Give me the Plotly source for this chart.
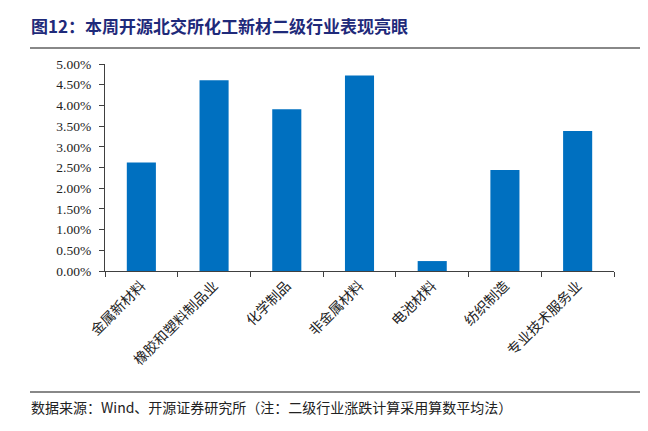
import plotly.graph_objects as go

categories = ["金属新材料", "橡胶和塑料制品业", "化学制品", "非金属材料", "电池材料", "纺织制造", "专业技术服务业"]
values = [2.62, 4.61, 3.91, 4.72, 0.24, 2.44, 3.38]
tick_vals = [0, 0.5, 1, 1.5, 2, 2.5, 3, 3.5, 4, 4.5, 5]
tick_text = ["%.2f%%" % v for v in tick_vals]

title_text = "图12：本周开源北交所化工新材二级行业表现亮眼"
source_text = "数据来源：Wind、开源证券研究所（注：二级行业涨跌计算采用算数平均法）"

serif = "Liberation Serif"
cjk = "Noto Sans CJK SC"

# page body has an 8px margin; figure coordinates are window coords minus 8
W, H = 640, 423
L, T, R, B = 97, 56, 34, 160
pw = W - L - R   # 509
ph = H - T - B   # 207

def px(x):  # window x -> paper x
    return (x - 8 - L) / pw

def py(y):  # window y -> paper y
    return (H - B - (y - 8)) / ph

fig = go.Figure(go.Bar(
    x=categories, y=values, marker_color="#0070C0", width=0.4,
    marker_line_width=0,
))

fig.update_layout(
    width=W, height=H,
    margin=dict(l=L, r=R, t=T, b=B),
    paper_bgcolor="white", plot_bgcolor="white",
    showlegend=False,
    xaxis=dict(
        showline=True, linecolor="#404040", linewidth=1.2,
        ticks="outside", ticklen=5, tickcolor="#404040",
        tickson="boundaries", tickangle=-45,
        tickfont=dict(family=cjk, size=14, color="#222222"),
        showgrid=False,
    ),
    yaxis=dict(
        range=[0, 5], tickvals=tick_vals, ticktext=tick_text,
        showline=True, linecolor="#404040", linewidth=1.2,
        ticks="outside", ticklen=5, tickcolor="#404040",
        ticklabelstandoff=5,
        tickfont=dict(family=serif, size=13.5, color="#222222"),
        showgrid=False, zeroline=False,
    ),
    shapes=[
        dict(type="line", xref="paper", yref="paper",
             x0=px(30), x1=px(648), y0=py(48), y1=py(48),
             line=dict(color="#606060", width=1.5)),
        dict(type="line", xref="paper", yref="paper",
             x0=px(30), x1=px(648), y0=py(392), y1=py(392),
             line=dict(color="#606060", width=1.5)),
    ],
    annotations=[
        dict(text="<b>" + title_text + "</b>", xref="paper", yref="paper",
             x=px(29), y=py(25), xanchor="left", yanchor="middle",
             showarrow=False, font=dict(family=cjk, size=17, color="#1F2A7A")),
        dict(text=source_text, xref="paper", yref="paper",
             x=px(29), y=py(407), xanchor="left", yanchor="middle",
             showarrow=False, font=dict(family=cjk, size=14, color="#222222")),
    ],
)

fig.write_html("out.html")
